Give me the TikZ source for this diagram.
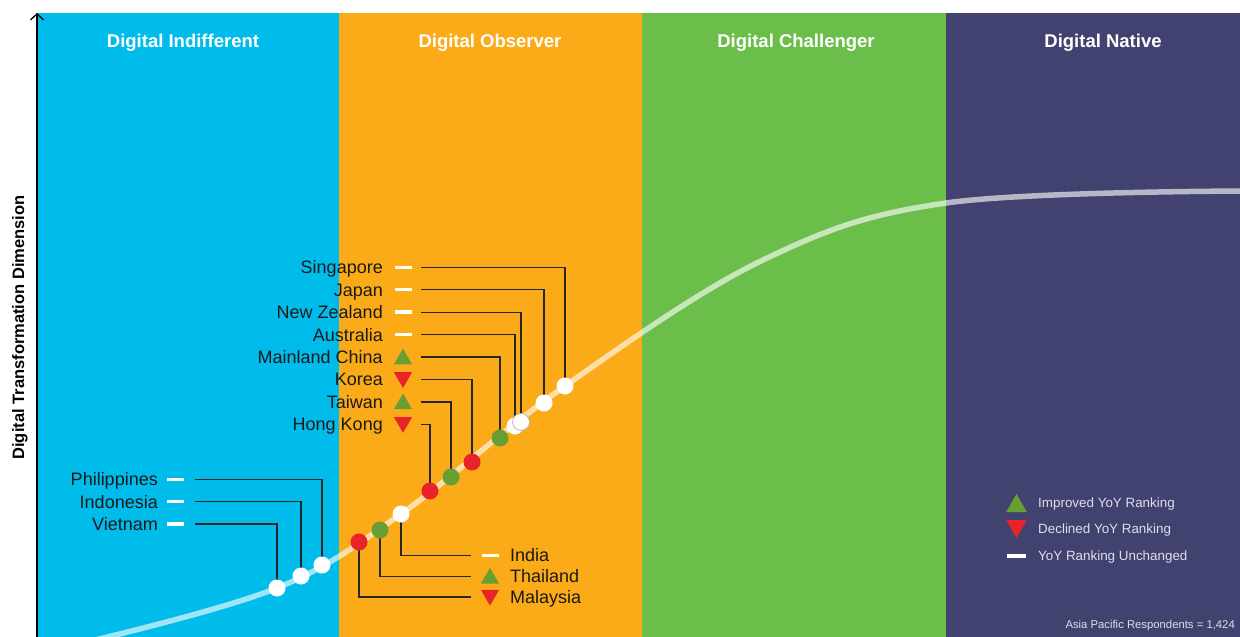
\documentclass[tikz,border=0pt]{standalone}
\usepackage{fontspec}
\setmainfont{Liberation Sans}
\usetikzlibrary{positioning,shapes.geometric,arrows.meta}

\definecolor{indiffblue}{RGB}{0,188,235}
\definecolor{observorange}{RGB}{251,171,24}
\definecolor{challgreen}{RGB}{108,190,75}
\definecolor{nativenavy}{RGB}{66,66,112}
\definecolor{uprankgreen}{RGB}{104,158,52}
\definecolor{downrankred}{RGB}{232,35,42}
\definecolor{legendgray}{RGB}{222,222,234}

\tikzset{
    bandtitle/.style={text=white, inner sep=0pt, text height=13.2pt, text depth=0pt,
        font=\fontsize{18.5}{20}\selectfont\bfseries},
    country/.style={text=black!90, inner sep=0pt, text height=12.9pt, text depth=0pt,
        font=\fontsize{18}{20}\selectfont},
    legendtext/.style={text=legendgray, inner sep=0pt, text height=9.6pt, text depth=0pt,
        font=\fontsize{13.4}{15}\selectfont},
    rankdot/.style={circle, minimum size=17pt, inner sep=0pt},
    mksame/.style={rectangle, fill=white, minimum width=17pt, minimum height=3.5pt, inner sep=0pt},
    mkup/.style={regular polygon, regular polygon sides=3, fill=uprankgreen,
        minimum size=21pt, inner sep=0pt, yshift=-2pt},
    mkdown/.style={mkup, fill=downrankred, shape border rotate=180, yshift=4pt},
    lead/.style={draw=black!85, line width=1.3pt},
}

\begin{document}
\begin{tikzpicture}[x=1pt, y=-1pt]

    \useasboundingbox (0,0) rectangle (1240,637);

    \foreach \c/\a/\b in {indiffblue/37/339, observorange/339/642, challgreen/642/946, nativenavy/946/1240}{
        \fill[\c] (\a,13) rectangle (\b,637);
    }

    \foreach \n/\x/\txt in {indiff/183/Digital Indifferent, observ/490/Digital Observer,
                            chall/796/Digital Challenger, native/1103/Digital Native}{
        \node[bandtitle] (\n) at (\x,40.7) {\txt};
    }

    \draw[white, opacity=0.62, line width=5.5pt] plot[smooth, tension=0.6] coordinates {
        (95,640) (277,588) (401,514) (565,386) (763,260) (946,203) (1245,191)};

    \coordinate (origin) at (37,637);
    \coordinate (ytop) at (37,13);
    \draw[line width=1.3pt, -{Straight Barb[length=6pt,width=13pt]}] (origin) -- (ytop);
    \node[rotate=90, inner sep=0pt, text height=11.8pt, text depth=0pt,
          font=\fontsize{16.5}{18}\selectfont\bfseries] (dimlab) at (18.3,327.5)
          {Digital Transformation Dimension};

    % positions on the curve
    \foreach \n/\x/\y in {vnm/277/588, idn/301/576, phl/322/565, mys/359/542, tha/380/530,
                          ind/401/514, hkg/430/491, twn/451/477, kor/472/462, chn/500/438,
                          aus/515/426, nzl/521/422, jpn/544/403, sgp/565/386}{
        \coordinate (\n) at (\x,\y);
    }

    \foreach \n/\txt/\mk/\r in {sgp/Singapore/mksame/0, jpn/Japan/mksame/1, nzl/New Zealand/mksame/2,
                                aus/Australia/mksame/3, chn/Mainland China/mkup/4, kor/Korea/mkdown/5,
                                twn/Taiwan/mkup/6, hkg/Hong Kong/mkdown/7}{
        \node[\mk] (\n-mk) at (403,267.3+22.43*\r) {};
        \node[country, anchor=east] (\n-lb) at (383,267.3+22.43*\r) {\txt};
        \draw[lead] ([xshift=38pt]\n-lb.east) -| (\n);
    }

    \foreach \n/\txt/\r in {phl/Philippines/0, idn/Indonesia/1, vnm/Vietnam/2}{
        \node[mksame] (\n-mk) at (175,479.3+22.3*\r) {};
        \node[country, anchor=east] (\n-lb) at (158,479.3+22.3*\r) {\txt};
        \draw[lead] ([xshift=37pt]\n-lb.east) -| (\n);
    }

    \foreach \n/\txt/\mk/\r in {ind/India/mksame/0, tha/Thailand/mkup/1, mys/Malaysia/mkdown/2}{
        \node[\mk] (\n-mk) at (490,555.5+20.8*\r) {};
        \node[country, anchor=west] (\n-lb) at (510,555.5+20.8*\r) {\txt};
        \draw[lead] (\n) |- ([xshift=-39pt]\n-lb.west);
    }

    \foreach \n/\c in {vnm/white, idn/white, phl/white, mys/downrankred, tha/uprankgreen,
                       ind/white, hkg/downrankred, twn/uprankgreen, kor/downrankred,
                       chn/uprankgreen, aus/white, jpn/white, sgp/white}{
        \node[rankdot, fill=\c] (\n-dot) at (\n) {};
    }
    \node[rankdot, fill=white, draw=black!30, line width=0.7pt] (nzl-dot) at (nzl) {};

    % legend
    \node[mkup, minimum size=24pt] (lgup) at (1016.5,504) {};
    \node[legendtext, anchor=west] (lgup-lb) at (1038,503) {Improved YoY Ranking};
    \node[mkdown, minimum size=24pt] (lgdown) at (1016.5,528) {};
    \node[legendtext, anchor=west] (lgdown-lb) at (1038,529) {Declined YoY Ranking};
    \node[mksame, minimum width=19pt, minimum height=4pt] (lgsame) at (1016.5,556) {};
    \node[legendtext, anchor=west] (lgsame-lb) at (1038,555.7) {YoY Ranking Unchanged};

    \node[text=legendgray, inner sep=0pt, text height=8.1pt, text depth=0pt, anchor=east,
          font=\fontsize{11.3}{13}\selectfont] (resp) at (1235,624) {Asia Pacific Respondents = 1,424};

\end{tikzpicture}
\end{document}
